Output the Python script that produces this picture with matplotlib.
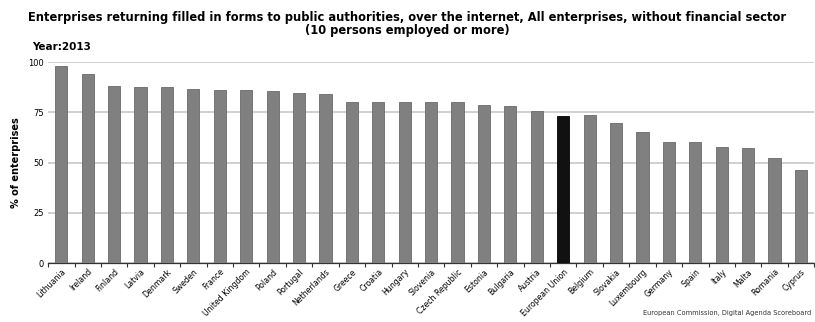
import numpy as np
import matplotlib.pyplot as plt

countries = ["Lithuania", "Ireland", "Finland", "Latvia", "Denmark", "Sweden", "France",
             "United Kingdom", "Poland", "Portugal", "Netherlands", "Greece", "Croatia",
             "Hungary", "Slovenia", "Czech Republic", "Estonia", "Bulgaria", "Austria",
             "European Union", "Belgium", "Slovakia", "Luxembourg", "Germany", "Spain",
             "Italy", "Malta", "Romania", "Cyprus"]
values = [98.3, 94.0, 88.2, 87.7, 87.4, 86.7, 86.2, 86.2, 85.6, 84.4, 83.9, 80.4, 80.1,
          80.1, 80.1, 80.1, 78.9, 78.4, 75.9, 73.3, 73.6, 69.8, 65.0, 60.5, 60.2, 57.6,
          57.2, 52.1, 46.1]
yticks = [0, 25, 50, 75, 100]

plt.rcParams['font.family'] = ['DejaVu Sans']

fig = plt.figure(figsize=(8.15, 3.22), dpi=100)
ax = fig.add_axes([0.059, 0.183, 0.94, 0.624])

x = np.arange(len(countries))
colors = ['#111111' if c == "European Union" else '#808080' for c in countries]
edges = ['#000000' if c == "European Union" else '#6a6a6a' for c in countries]
ax.bar(x, values, width=0.46, color=colors, edgecolor=edges, linewidth=0.6, zorder=3)

ax.set_xlim(-0.5, len(countries) - 0.5)
ax.set_ylim(0, 100)
ax.set_yticks(yticks)
ax.set_yticklabels([str(v) for v in yticks], fontsize=6)
ax.yaxis.grid(True, color='#c4c4c4', linewidth=1.1, zorder=0)
ax.tick_params(axis='y', length=0, pad=3)

ax.set_xticks(x)
ax.set_xticklabels(countries, rotation=45, ha='right', rotation_mode='anchor', fontsize=5.6)
ax.set_xticks(np.arange(len(countries) + 1) - 0.5, minor=True)
ax.tick_params(axis='x', which='major', length=0, pad=3)
ax.tick_params(axis='x', which='minor', length=3, width=0.8, color='#333333')

for s in ['top', 'right', 'left']:
    ax.spines[s].set_visible(False)
ax.spines['bottom'].set_color('#333333')
ax.spines['bottom'].set_linewidth(0.9)

ax.set_ylabel("% of enterprises", fontsize=7, fontweight='bold', labelpad=5)

fig.text(0.5, 0.925, "Enterprises returning filled in forms to public authorities, over the internet, All enterprises, without financial sector\n(10 persons employed or more)",
         ha='center', va='center', fontsize=8.3, fontweight='bold', linespacing=0.95)
fig.text(0.039, 0.855, "Year:2013", ha='left', va='center', fontsize=7.5, fontweight='bold')
fig.text(0.996, 0.02, "European Commission, Digital Agenda Scoreboard", ha='right', va='bottom',
         fontsize=4.8, color='#333333')

fig.savefig("out.png", dpi=100)
